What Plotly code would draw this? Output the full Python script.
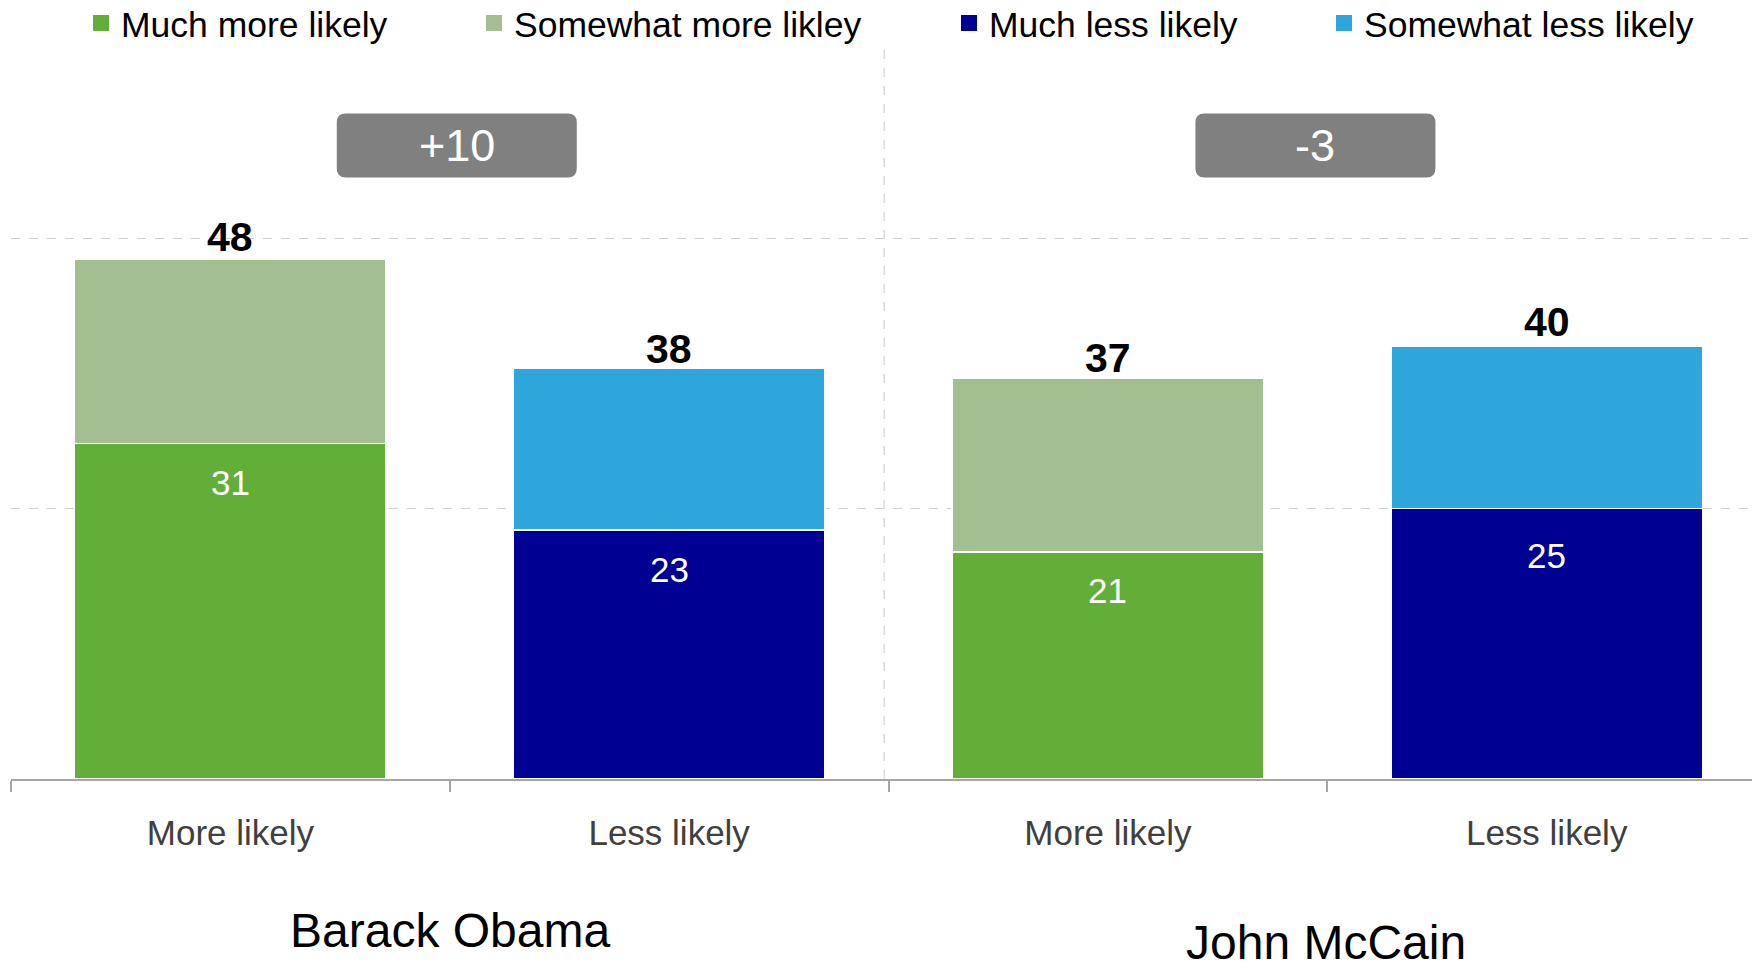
import plotly.graph_objects as go

# ---- data ----
candidates = ["Barack Obama", "John McCain"]
categories = ["More likely", "Less likely", "More likely", "Less likely"]
much_more = [31, None, 21, None]
somewhat_more = [17, None, 16, None]
much_less = [None, 23, None, 25]
somewhat_less = [None, 15, None, 15]
totals = [48, 38, 37, 40]
inner_values = [31, 23, 21, 25]
net_labels = ["+10", "-3"]
series_names = ["Much more likely", "Somewhat more likley", "Much less likely", "Somewhat less likely"]

colors = {
    "Much more likely": "#63AD39",
    "Somewhat more likley": "#A3BE90",
    "Much less likely": "#000093",
    "Somewhat less likely": "#2EA6DB",
}

FONT = "Liberation Sans, Arial, sans-serif"
W, H = 1752, 962
ML, MR, MT, MB = 11, 0, 0, 183
plot_w = W - ML - MR
x_idx = list(range(len(categories)))

fig = go.Figure()
series_vals = [much_more, somewhat_more, much_less, somewhat_less]
for name, vals in zip(series_names, series_vals):
    fig.add_trace(go.Bar(
        x=x_idx, y=vals, name=name, width=0.71,
        marker=dict(color=colors[name], line=dict(color="white", width=1.5)),
        showlegend=False, hoverinfo="skip",
    ))

# legend entries (separate legends for exact placement)
legend_px = [101, 494, 969, 1344]  # square centres
legend_ids = ["legend", "legend2", "legend3", "legend4"]
for name, lid in zip(series_names, legend_ids):
    fig.add_trace(go.Scatter(
        x=[None], y=[None], mode="markers", name=name,
        marker=dict(symbol="square", size=16, color=colors[name]),
        legend=lid, showlegend=True,
    ))

layout_legends = {}
for px, lid in zip(legend_px, legend_ids):
    layout_legends[lid] = dict(
        x=(px - 20 - ML) / plot_w, y=(H - MB - 23.5) / (H - MB - MT),
        xanchor="left", yanchor="middle", orientation="h",
        font=dict(family=FONT, size=35.5, color="black"),
        bgcolor="rgba(0,0,0,0)", borderwidth=0,
    )

annotations = []
# totals above bars
total_shift = [-2, -6, -4, -1]
for i, (t, s) in enumerate(zip(totals, total_shift)):
    annotations.append(dict(
        x=i, y=t, xref="x", yref="y", text=f"<b>{t}</b>", showarrow=False,
        yanchor="bottom", yshift=s,
        font=dict(family=FONT, size=41, color="black"),
    ))
# values inside bars
inner_shift = [-17, -18, -17, -25]
for i, (v, s) in enumerate(zip(inner_values, inner_shift)):
    annotations.append(dict(
        x=i, y=v, xref="x", yref="y", text=str(v), showarrow=False,
        yanchor="top", yshift=s,
        font=dict(family=FONT, size=35, color="white"),
    ))
# candidate group labels
group_x = [0.5, 2.497]
group_y = [-0.194, -0.21]
for cname, gx, gy in zip(candidates, group_x, group_y):
    annotations.append(dict(
        x=gx, y=gy, xref="x", yref="paper", text=cname, showarrow=False,
        yanchor="middle", font=dict(family=FONT, size=48, color="black"),
    ))
# net badges
badge_x = [0.516, 2.473]
badge_y = 58.55
shapes = []
bw, bh, r = 120, 32, 9
path = (f"M {-bw+r},{-bh} L {bw-r},{-bh} Q {bw},{-bh} {bw},{-bh+r} "
        f"L {bw},{bh-r} Q {bw},{bh} {bw-r},{bh} L {-bw+r},{bh} "
        f"Q {-bw},{bh} {-bw},{bh-r} L {-bw},{-bh+r} Q {-bw},{-bh} {-bw+r},{-bh} Z")
for lbl, bx in zip(net_labels, badge_x):
    shapes.append(dict(
        type="path", xref="x", yref="y", xsizemode="pixel", ysizemode="pixel",
        xanchor=bx, yanchor=badge_y, path=path,
        fillcolor="#808080", line=dict(width=0), layer="above",
    ))
    annotations.append(dict(
        x=bx, y=badge_y, xref="x", yref="y", text=lbl, showarrow=False,
        yanchor="middle", font=dict(family=FONT, size=45, color="white"),
    ))
# vertical separator
shapes.append(dict(
    type="line", xref="x", yref="y", x0=1.49, x1=1.49, y0=0, y1=68.2,
    line=dict(color="#c8c8c8", width=1, dash="dash"), layer="below",
))

fig.update_layout(
    width=W, height=H,
    margin=dict(l=ML, r=MR, t=MT, b=MB, autoexpand=False),
    barmode="stack",
    plot_bgcolor="white", paper_bgcolor="white",
    font=dict(family=FONT),
    annotations=annotations, shapes=shapes,
    **layout_legends,
)
fig.update_xaxes(
    range=[-0.5, 3.468], tickvals=x_idx, ticktext=categories,
    ticks="", showgrid=False, zeroline=False, automargin=False,
    showline=True, linecolor="#a6a6a6", linewidth=1.5,
    tickfont=dict(family=FONT, size=35, color="#404040"),
    ticklabelstandoff=22,
    minor=dict(ticks="outside", tick0=-0.5, dtick=1, ticklen=11, tickcolor="#a6a6a6", tickwidth=1.5, showgrid=False),
)
fig.update_yaxes(
    range=[0, 72], tickvals=[25, 50], showticklabels=False, automargin=False,
    showgrid=True, gridcolor="#d0d0d0", griddash="dash", gridwidth=1,
    zeroline=False, showline=False,
)

fig.write_html(
    "out.html",
    config={"displayModeBar": False},
    post_script="document.body.style.margin='0';document.body.style.overflow='hidden';",
)
